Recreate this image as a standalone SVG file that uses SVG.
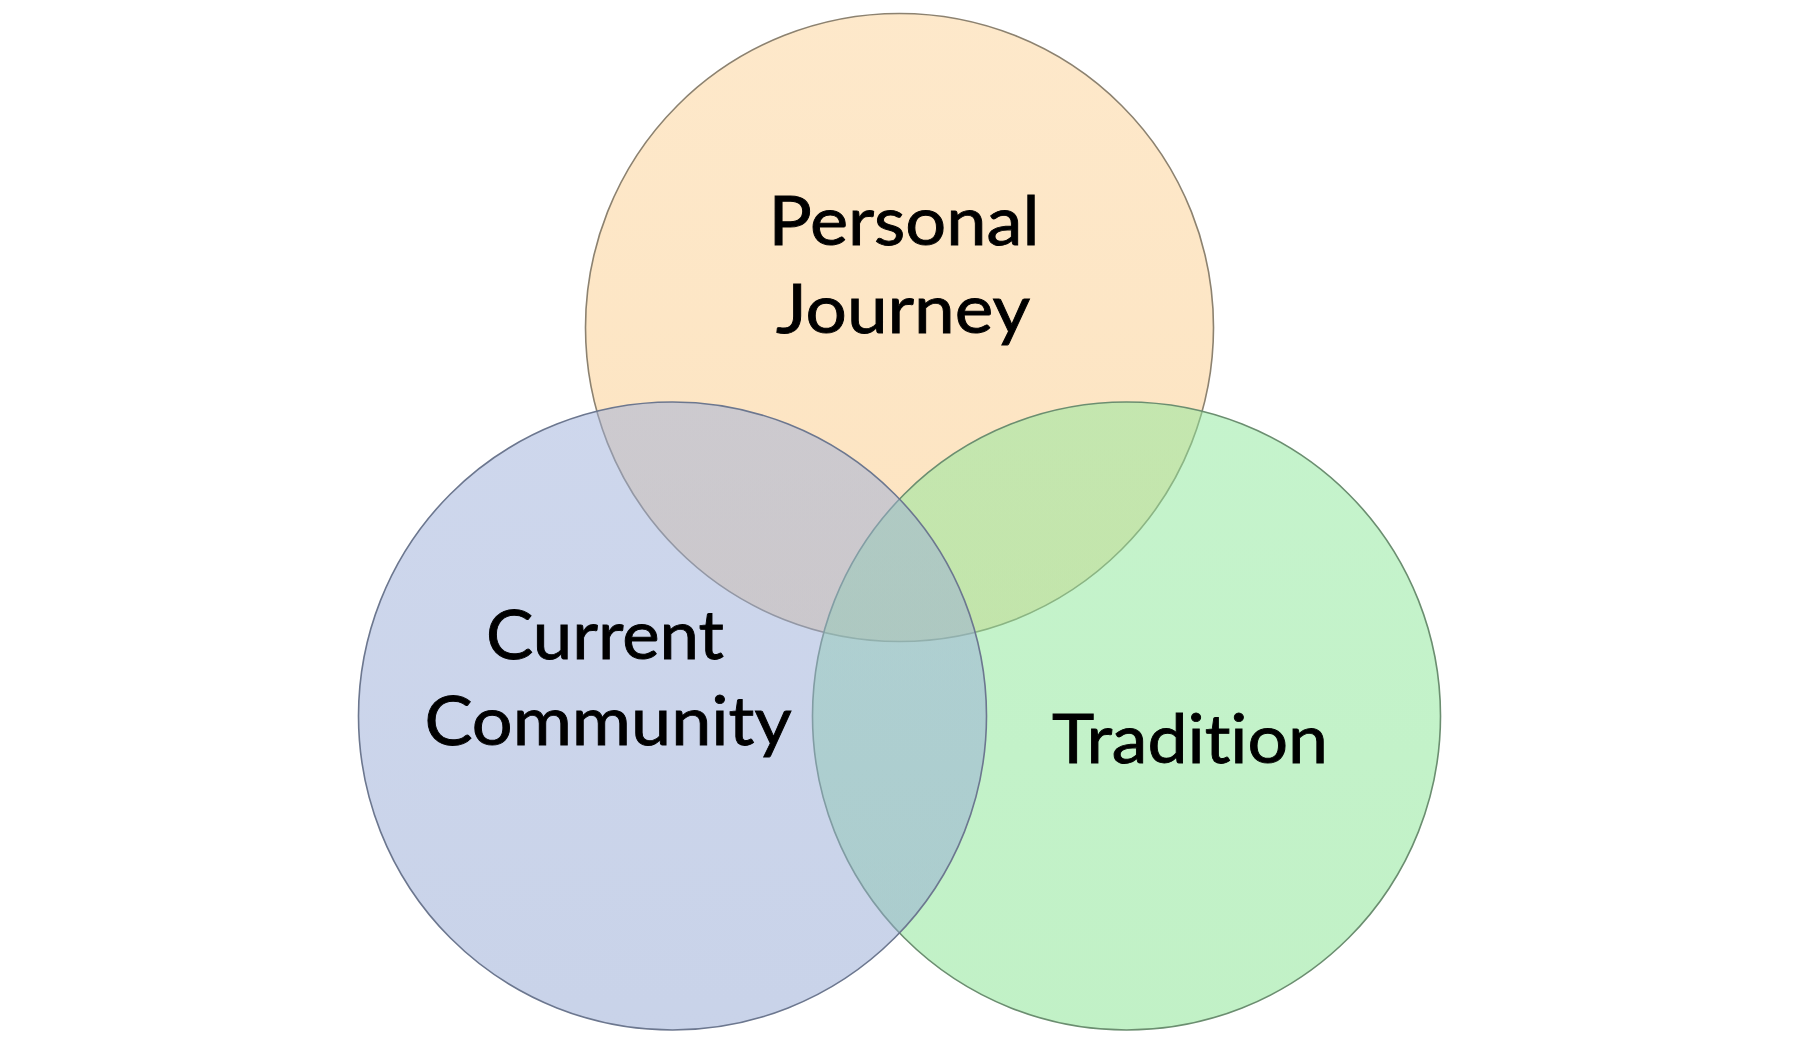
<svg xmlns="http://www.w3.org/2000/svg" width="1799" height="1045" viewBox="0 0 1799 1045">
  <defs>
    <linearGradient id="gOrange" x1="0" y1="0" x2="0" y2="1">
      <stop offset="0" stop-color="#FCD296"/>
      <stop offset="1" stop-color="#FAC882"/>
    </linearGradient>
    <linearGradient id="gGreen" x1="0" y1="0" x2="0" y2="1">
      <stop offset="0" stop-color="#8CE89A"/>
      <stop offset="1" stop-color="#84E38E"/>
    </linearGradient>
    <linearGradient id="gBlue" x1="0" y1="0" x2="0" y2="1">
      <stop offset="0" stop-color="#9DAFDA"/>
      <stop offset="1" stop-color="#93A7D3"/>
    </linearGradient>
  </defs>
  <style>
    .circle { fill-opacity: 0.5; stroke-width: 1.6; }
    .label { font-family: Lato, "Open Sans", "Liberation Sans", sans-serif; font-size: 68px; fill: #000000; stroke: #000000; stroke-width: 0.9; text-anchor: middle; font-variant-ligatures: none; }
  </style>
  <rect x="0" y="0" width="1799" height="1045" fill="#FFFFFF"/>
  <g id="personal-journey">
    <circle class="circle" cx="899.5" cy="327.5" r="314" fill="url(#gOrange)" stroke="#8C8270"/>
  </g>
  <g id="tradition">
    <circle class="circle" cx="1126.5" cy="716" r="314" fill="url(#gGreen)" stroke="#6B8E70"/>
  </g>
  <g id="current-community">
    <circle class="circle" cx="672.5" cy="716" r="314" fill="url(#gBlue)" stroke="#6C778F"/>
  </g>
  <g id="labels">
    <text class="label" x="904" y="245" textLength="271" lengthAdjust="spacingAndGlyphs">Personal</text>
    <text class="label" x="903" y="333" textLength="254" lengthAdjust="spacingAndGlyphs">Journey</text>
    <text class="label" x="605" y="659" textLength="238" lengthAdjust="spacingAndGlyphs">Current</text>
    <text class="label" x="608" y="745" textLength="367" lengthAdjust="spacingAndGlyphs">Community</text>
    <text class="label" x="1190" y="763" textLength="276" lengthAdjust="spacingAndGlyphs">Tradition</text>
  </g>
  <g id="connectors"></g>
</svg>
